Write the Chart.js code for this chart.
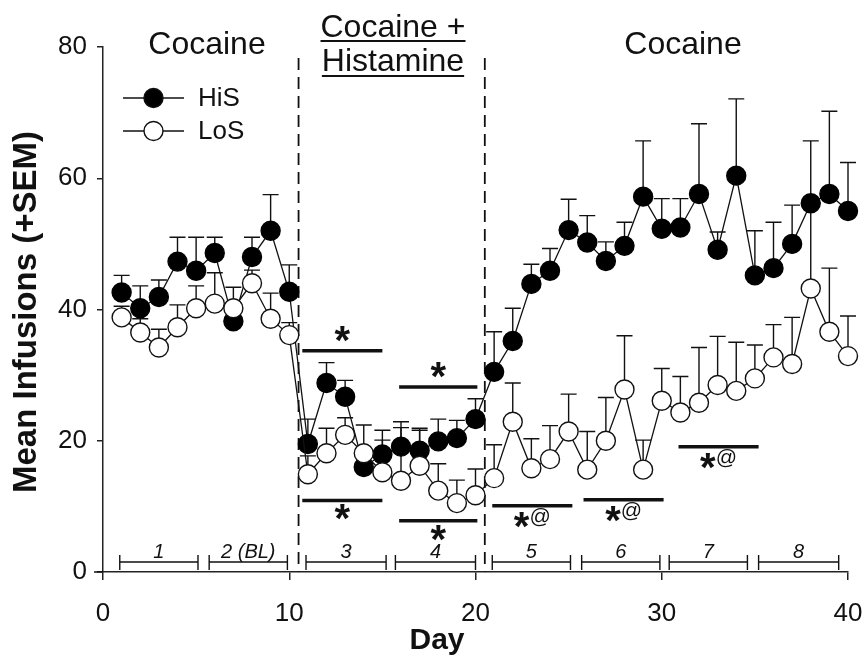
<!DOCTYPE html>
<html>
<head>
<meta charset="utf-8">
<script src="https://cdn.jsdelivr.net/npm/chart.js@4"></script>
<style>
  html, body { margin: 0; padding: 0; background: #fff; }
  #wrap { width: 864px; height: 666px; }
</style>
</head>
<body>
<div id="wrap"><canvas id="infusions" width="864" height="666"></canvas></div>
<script>
const days = [];
for (let d = 1; d <= 40; d++) days.push(d);

// means
const hisMean = [42.6, 40.2, 41.9, 47.3, 45.9, 48.6, 38.2, 48.0, 52.0, 42.7,
  19.5, 28.8, 26.7, 16.0, 17.9, 19.1, 18.5, 19.9, 20.4, 23.3,
  30.5, 35.2, 43.9, 45.9, 52.1, 50.2, 47.4, 49.7, 57.2, 52.3,
  52.5, 57.6, 49.1, 60.4, 45.2, 46.3, 50.0, 56.2, 57.6, 55.0];
const hisUpper = [45.2, 43.6, 44.5, 51.0, 51.0, 51.0, 41.0, 51.0, 57.5, 46.8,
  23.3, 31.9, 29.2, 18.5, 21.6, 22.9, 21.9, 23.3, 23.1, 26.4,
  36.6, 40.2, 46.9, 49.3, 56.8, 54.3, 50.3, 53.3, 65.7, 56.9,
  56.9, 68.3, 51.8, 72.1, 52.0, 53.3, 55.9, 65.7, 70.2, 62.4];
const losMean = [38.8, 36.5, 34.2, 37.3, 40.2, 40.9, 40.2, 44.0, 38.6, 36.1,
  14.9, 18.1, 20.9, 18.1, 15.2, 13.9, 16.2, 12.4, 10.5, 11.7,
  14.3, 22.9, 15.8, 17.2, 21.4, 15.6, 20.0, 27.8, 15.6, 26.1,
  24.3, 25.8, 28.5, 27.6, 29.5, 32.7, 31.7, 43.2, 36.6, 32.9];
const losUpper = [40.5, 38.6, 37.0, 40.7, 43.6, 45.6, 43.4, 46.0, 42.5, 38.0,
  17.7, 21.9, 23.5, 22.4, 20.1, 22.0, 21.6, 16.5, 14.0, 15.7,
  19.4, 28.8, 20.3, 22.3, 27.1, 21.4, 26.6, 36.0, 20.1, 31.0,
  29.8, 34.2, 35.9, 35.0, 34.6, 37.7, 38.8, 56.0, 46.3, 39.0];

const phaseLines = [10.5, 20.5];

// significance bars
const sigFrom = [10.7, 15.9, 10.7, 15.9, 20.9, 25.8, 30.9];
const sigTo = [15.0, 20.1, 15.0, 20.1, 25.2, 30.1, 35.2];
const sigAt = [33.7, 28.2, 10.9, 7.8, 10.1, 11.0, 19.1];
const sigText = ['*', '*', '*', '*', '*@', '*@', '*@'];
const sigAbove = [true, true, false, false, false, false, false];

// block brackets along the bottom
const blockFrom = [0.9, 5.7, 10.9, 15.7, 20.9, 25.7, 30.4, 35.2];
const blockTo = [5.1, 9.9, 15.2, 20.0, 25.1, 29.9, 34.6, 39.5];
const blockLabels = ['1', '2 (BL)', '3', '4', '5', '6', '7', '8'];

const FONT = "'Liberation Sans', Arial, sans-serif";

function pts(means) {
  return days.map((d, i) => ({ x: d, y: means[i] }));
}

const overlay = {
  id: 'overlay',
  beforeDatasetsDraw(chart) {
    const ctx = chart.ctx;
    const xs = chart.scales.x, ys = chart.scales.y;
    ctx.save();
    // dashed phase separators
    ctx.strokeStyle = '#111';
    ctx.lineWidth = 1.8;
    ctx.setLineDash([12, 7]);
    phaseLines.forEach(d => {
      const px = xs.getPixelForValue(d);
      ctx.beginPath();
      ctx.moveTo(px, 58);
      ctx.lineTo(px, ys.getPixelForValue(0));
      ctx.stroke();
    });
    ctx.setLineDash([]);
    // error bars (upper only)
    ctx.lineWidth = 1.4;
    [[losMean, losUpper], [hisMean, hisUpper]].forEach(([m, u]) => {
      days.forEach((d, i) => {
        const px = xs.getPixelForValue(d);
        const y0 = ys.getPixelForValue(m[i]);
        const y1 = ys.getPixelForValue(u[i]);
        ctx.beginPath();
        ctx.moveTo(px, y0);
        ctx.lineTo(px, y1);
        ctx.moveTo(px - 8, y1);
        ctx.lineTo(px + 8, y1);
        ctx.stroke();
      });
    });
    ctx.restore();
  },
  afterDraw(chart) {
    const ctx = chart.ctx;
    const xs = chart.scales.x, ys = chart.scales.y;
    ctx.save();
    ctx.fillStyle = '#111';
    ctx.strokeStyle = '#111';

    // x axis line runs a little past the y axis
    ctx.lineWidth = 1.5;
    ctx.beginPath();
    ctx.moveTo(94, ys.getPixelForValue(0));
    ctx.lineTo(xs.left, ys.getPixelForValue(0));
    ctx.stroke();

    // phase headings
    ctx.font = '32px ' + FONT;
    ctx.textAlign = 'center';
    ctx.textBaseline = 'middle';
    ctx.fillText('Cocaine', 207, 45);
    ctx.fillText('Cocaine', 683, 45);
    ctx.fillText('Cocaine +', 393, 28);
    ctx.fillText('Histamine', 393, 62);
    ctx.lineWidth = 2;
    let w = ctx.measureText('Cocaine +').width;
    ctx.beginPath();
    ctx.moveTo(393 - w / 2, 41); ctx.lineTo(393 + w / 2, 41);
    w = ctx.measureText('Histamine').width;
    ctx.moveTo(393 - w / 2, 76); ctx.lineTo(393 + w / 2, 76);
    ctx.stroke();

    // legend
    const legend = [['HiS', '#000', 98], ['LoS', '#fff', 131]];
    ctx.font = '26px ' + FONT;
    ctx.textAlign = 'left';
    legend.forEach(([name, fill, y]) => {
      ctx.lineWidth = 1.4;
      ctx.beginPath();
      ctx.moveTo(123, y); ctx.lineTo(184, y);
      ctx.stroke();
      ctx.beginPath();
      ctx.arc(153.5, y, 9.5, 0, Math.PI * 2);
      ctx.fillStyle = fill;
      ctx.fill();
      ctx.stroke();
      ctx.fillStyle = '#111';
      ctx.fillText(name, 198, y + 1);
    });

    // significance bars
    sigText.forEach((t, i) => {
      const x0 = xs.getPixelForValue(sigFrom[i]);
      const x1 = xs.getPixelForValue(sigTo[i]);
      const y = ys.getPixelForValue(sigAt[i]);
      ctx.lineWidth = 3.5;
      ctx.beginPath();
      ctx.moveTo(x0, y); ctx.lineTo(x1, y);
      ctx.stroke();
      const cx = (x0 + x1) / 2;
      ctx.textBaseline = 'alphabetic';
      ctx.font = 'bold 40px ' + FONT;
      const sw = ctx.measureText('*').width;
      if (t === '*') {
        ctx.textAlign = 'center';
        ctx.fillText('*', cx, sigAbove[i] ? y + 3 : y + 32);
      } else {
        ctx.font = '21px ' + FONT;
        const aw = ctx.measureText('@').width;
        const left = cx - (sw + aw) / 2;
        ctx.textAlign = 'left';
        ctx.font = 'bold 40px ' + FONT;
        ctx.fillText('*', left, y + 34);
        ctx.font = '21px ' + FONT;
        ctx.fillText('@', left + sw, y + 17);
      }
    });

    // block brackets
    const by = 562;
    ctx.lineWidth = 1.4;
    ctx.font = 'italic 20px ' + FONT;
    ctx.textAlign = 'center';
    ctx.textBaseline = 'alphabetic';
    blockLabels.forEach((lab, i) => {
      const x0 = xs.getPixelForValue(blockFrom[i]);
      const x1 = xs.getPixelForValue(blockTo[i]);
      ctx.beginPath();
      ctx.moveTo(x0, by); ctx.lineTo(x1, by);
      ctx.moveTo(x0, by - 7); ctx.lineTo(x0, by + 8);
      ctx.moveTo(x1, by - 7); ctx.lineTo(x1, by + 8);
      ctx.stroke();
      ctx.fillText(lab, (x0 + x1) / 2, by - 4);
    });

    // axis titles
    ctx.font = 'bold 30px ' + FONT;
    ctx.textAlign = 'center';
    ctx.textBaseline = 'middle';
    ctx.fillText('Day', 437, 641);
    ctx.save();
    ctx.translate(27, 312);
    ctx.rotate(-Math.PI / 2);
    ctx.font = 'bold 33px ' + FONT;
    ctx.fillText('Mean Infusions (+SEM)', 0, 0);
    ctx.restore();

    ctx.restore();
  }
};

const ctx = document.getElementById('infusions');
const chart = new Chart(ctx, {
  type: 'line',
  data: {
    datasets: [
      {
        label: 'LoS',
        data: pts(losMean),
        borderColor: '#111',
        borderWidth: 1.3,
        pointRadius: 9.5,
        pointBackgroundColor: '#fff',
        pointBorderColor: '#111',
        pointBorderWidth: 1.4,
        tension: 0,
        clip: false
      },
      {
        label: 'HiS',
        data: pts(hisMean),
        borderColor: '#111',
        borderWidth: 1.3,
        pointRadius: 9.5,
        pointBackgroundColor: '#000',
        pointBorderColor: '#000',
        pointBorderWidth: 1.4,
        tension: 0,
        clip: false
      }
    ]
  },
  options: {
    responsive: false,
    animation: false,
    events: [],
    layout: { padding: { top: 47, right: 16, left: 0, bottom: 0 } },
    plugins: { legend: { display: false }, tooltip: { enabled: false } },
    scales: {
      x: {
        type: 'linear',
        min: 0,
        max: 40,
        afterFit: (s) => { s.height = 94; s.paddingLeft = 0; s.paddingRight = 0; },
        border: { display: true, color: '#222', width: 1.5 },
        grid: { drawOnChartArea: false, color: '#222', lineWidth: 1.5, tickLength: 8 },
        ticks: { stepSize: 10, color: '#111', font: { size: 26, family: FONT }, padding: 18 }
      },
      y: {
        min: 0,
        max: 80,
        afterFit: (s) => { s.width = 103; },
        border: { display: true, color: '#222', width: 1.5 },
        grid: { drawOnChartArea: false, color: '#222', lineWidth: 1.5, tickLength: 6 },
        ticks: { stepSize: 20, color: '#111', font: { size: 26, family: FONT }, padding: 10 }
      }
    }
  },
  plugins: [overlay]
});
</script>
</body>
</html>
